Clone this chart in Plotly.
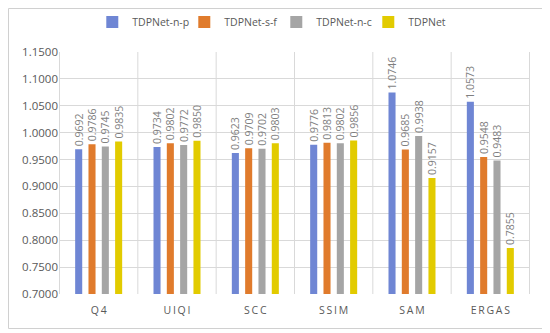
import plotly.graph_objects as go

categories = ["Q4", "UIQI", "SCC", "SSIM", "SAM", "ERGAS"]
series_names = ["TDPNet-n-p", "TDPNet-s-f", "TDPNet-n-c", "TDPNet"]
vals_np = [0.9692, 0.9734, 0.9623, 0.9776, 1.0746, 1.0573]
vals_sf = [0.9786, 0.9802, 0.9709, 0.9813, 0.9685, 0.9548]
vals_nc = [0.9745, 0.9772, 0.9702, 0.9802, 0.9938, 0.9483]
vals_td = [0.9835, 0.9850, 0.9803, 0.9856, 0.9157, 0.7855]
y_ticks = [0.70, 0.75, 0.80, 0.85, 0.90, 0.95, 1.00, 1.05, 1.10, 1.15]

colors = ["#6f86d4", "#e07b2c", "#a5a5a5", "#e2cb00"]
all_vals = [vals_np, vals_sf, vals_nc, vals_td]

fig = go.Figure()
for name, vals, c in zip(series_names, all_vals, colors):
    fig.add_trace(go.Bar(
        x=categories, y=[v - 0.70 for v in vals], base=0.70, name=name,
        marker=dict(color=c, line=dict(width=0)),
        text=[f"{v:.4f}" for v in vals], textposition="outside",
        textangle=-90, textfont=dict(size=10.5, color="#7f7f7f", family="Open Sans"),
        cliponaxis=False, hoverinfo="skip",
    ))

W, H = 542, 325
L, R, T, B = 51, 20, 44, 39
pw, ph = W - L - R, H - T - B

fig.update_layout(
    width=W, height=H,
    margin=dict(l=L, r=R, t=T, b=B, autoexpand=False),
    barmode="group", bargap=0.32, bargroupgap=0.47,
    plot_bgcolor="white", paper_bgcolor="white",
    font=dict(family="Open Sans", color="#595959"),
    uniformtext=dict(minsize=8, mode="show"),
    legend=dict(orientation="h", x=0.495, xanchor="center", xref="container",
                y=1 - 14 / H, yanchor="middle", yref="container",
                font=dict(size=10.5, color="#595959"), itemwidth=30, entrywidth=47,
                tracegroupgap=0, bgcolor="rgba(0,0,0,0)"),
    xaxis=dict(
        tickmode="array", tickvals=categories,
        ticktext=["\u2009".join(list(c)) for c in categories],
        tickfont=dict(size=10.5, color="#595959"),
        showgrid=False, ticks="", showline=False, ticklabelstandoff=8,
    ),
    yaxis=dict(
        range=[0.70, 1.15], tickvals=y_ticks,
        ticktext=[f"{t:.4f}" for t in y_ticks],
        tickfont=dict(size=11.5, color="#595959"),
        showgrid=True, gridcolor="#d9d9d9", gridwidth=1,
        zeroline=False, showline=False, ticks="",
    ),
    shapes=[
        dict(type="rect", xref="paper", yref="paper",
             x0=(0.5 - L) / pw, x1=(537.5 - L) / pw,
             y0=(ph - (320.5 - T)) / ph, y1=(ph - (0.5 - T)) / ph,
             line=dict(color="#d0d0d0", width=1), layer="below"),
    ] + [
        dict(type="line", xref="x", yref="paper", x0=i - 0.5, x1=i - 0.5, y0=0, y1=1,
             line=dict(color="#d9d9d9", width=1), layer="below")
        for i in range(len(categories) + 1)
    ],
)
fig.write_html("out.html")
